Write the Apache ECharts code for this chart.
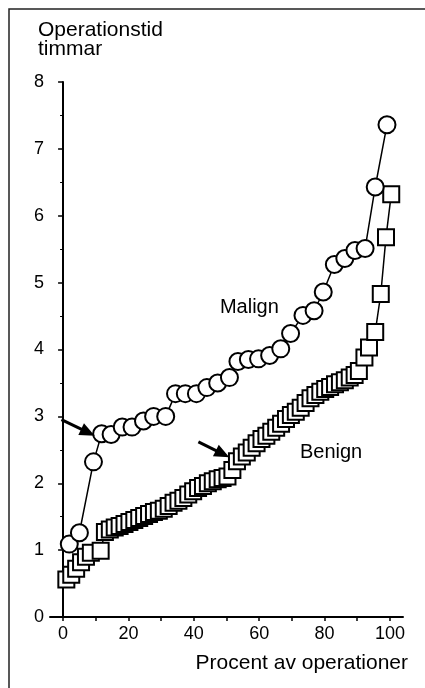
<!DOCTYPE html>
<html>
<head>
<meta charset="utf-8">
<style>
html,body{margin:0;padding:0;background:#fff;}
#chart{width:425px;height:688px;}
</style>
<script src="https://cdn.jsdelivr.net/npm/echarts@6/dist/echarts.min.js"></script>
</head>
<body>
<div id="chart"></div>
<script>
// ---- data ----
const yAxisTitle = ['Operationstid', 'timmar'];
const xAxisTitle = 'Procent av operationer';
const xTickLabels = [0, 20, 40, 60, 80, 100];
const xTickMarks = [0, 10, 20, 30, 40, 50, 60, 70, 80, 90, 100];
const yTickLabels = [0, 1, 2, 3, 4, 5, 6, 7, 8];

const malignX = [1.9, 5.0, 9.3, 11.8, 14.7, 18.1, 21.1, 24.6, 27.7, 31.4, 34.4, 37.4, 40.8, 44.0, 47.3, 50.9, 53.5, 56.7, 59.8, 63.2, 66.6, 69.6, 73.4, 76.8, 79.6, 83.0, 86.2, 89.3, 92.4, 95.5, 99.1];
const malignY = [1.09, 1.26, 2.32, 2.74, 2.73, 2.84, 2.84, 2.93, 3.0, 3.0, 3.34, 3.34, 3.34, 3.43, 3.5, 3.58, 3.82, 3.85, 3.86, 3.91, 4.01, 4.24, 4.51, 4.58, 4.86, 5.27, 5.36, 5.48, 5.51, 6.43, 7.36];

const benignX = [1.0, 2.5, 4.0, 5.5, 7.0, 8.5, 11.5, 12.8, 14.3, 15.8, 17.3, 18.8, 20.3, 21.8, 23.3, 24.8, 26.3, 27.8, 29.3, 30.8, 32.3, 33.8, 35.3, 36.8, 38.3, 39.8, 41.3, 42.8, 44.3, 45.8, 47.3, 48.8, 50.3, 51.8, 53.2, 54.7, 56.2, 57.7, 59.2, 60.7, 62.2, 63.7, 65.2, 66.7, 68.2, 69.7, 71.2, 72.7, 74.2, 75.7, 77.2, 78.7, 80.2, 81.7, 83.2, 84.7, 86.2, 87.7, 89.2, 90.5, 92.2, 93.6, 95.5, 97.2, 98.8, 100.4];
const benignY = [0.56, 0.63, 0.72, 0.82, 0.9, 0.96, 0.99, 1.27, 1.31, 1.34, 1.36, 1.39, 1.42, 1.45, 1.48, 1.51, 1.54, 1.57, 1.59, 1.62, 1.66, 1.71, 1.74, 1.78, 1.83, 1.88, 1.93, 1.96, 2.0, 2.03, 2.06, 2.08, 2.1, 2.2, 2.33, 2.4, 2.46, 2.53, 2.6, 2.66, 2.71, 2.77, 2.83, 2.89, 2.96, 3.02, 3.07, 3.13, 3.2, 3.27, 3.32, 3.37, 3.41, 3.44, 3.48, 3.51, 3.54, 3.58, 3.62, 3.68, 3.88, 4.03, 4.26, 4.83, 5.68, 6.32];

// annotations (data coordinates)
const seriesNames = ['Malign', 'Benign'];
const labelPos = [[57, 4.63], [82, 2.46]];
const arrows = [[[-0.5, 2.95], [7.6, 2.76]], [[41.4, 2.62], [48.8, 2.44]]];

const FONT = '"Liberation Sans", Arial, sans-serif';
const chart = echarts.init(document.getElementById('chart'), null, {renderer: 'canvas'});

const zip = (xs, ys) => xs.map((x, i) => [x, ys[i]]);
const arrowLine = a => ({
  silent: true, symbol: ['none', 'triangle'], symbolSize: [13, 15],
  lineStyle: {color: '#000', width: 3, type: 'solid'},
  itemStyle: {color: '#000'},
  label: {show: false},
  data: [[{coord: a[0]}, {coord: a[1]}]]
});

const option = {
  animation: false,
  backgroundColor: '#fff',
  grid: {left: 50, right: 22, top: 82, bottom: 71, containLabel: false},
  xAxis: {
    type: 'value', min: -4, max: 104,
    axisLine: {show: true, onZero: false, lineStyle: {color: '#000', width: 2}},
    axisTick: {show: true, customValues: xTickMarks, length: 4, lineStyle: {color: '#000', width: 1.5}},
    axisLabel: {customValues: xTickLabels, color: '#000', fontSize: 18, fontFamily: FONT, margin: 8},
    splitLine: {show: false}
  },
  yAxis: {
    type: 'value', min: 0, max: 8, interval: 1,
    axisLine: {show: true, lineStyle: {color: '#000', width: 2}},
    axisTick: {show: true, length: 5, lineStyle: {color: '#000', width: 1.5}},
    minorTick: {show: true, splitNumber: 2, length: 3, lineStyle: {color: '#000', width: 1}},
    axisLabel: {color: '#000', fontSize: 18, fontFamily: FONT, margin: 6,
      formatter: v => yTickLabels.includes(v) ? String(v) : ''},
    splitLine: {show: false}
  },
  series: [
    {
      name: seriesNames[1], type: 'line', data: zip(benignX, benignY),
      symbol: 'rect', symbolSize: 16, showAllSymbol: true,
      lineStyle: {color: '#000', width: 1.5},
      itemStyle: {color: '#fff', borderColor: '#000', borderWidth: 2},
      z: 2,
      markLine: arrowLine(arrows[1])
    },
    {
      name: seriesNames[0], type: 'line', data: zip(malignX, malignY),
      symbol: 'circle', symbolSize: 17, showAllSymbol: true,
      lineStyle: {color: '#000', width: 1.5},
      itemStyle: {color: '#fff', borderColor: '#000', borderWidth: 2},
      z: 3,
      markLine: arrowLine(arrows[0])
    }
  ]
};
chart.setOption(option);

const p0 = chart.convertToPixel({gridIndex: 0}, labelPos[0]);
const p1 = chart.convertToPixel({gridIndex: 0}, labelPos[1]);
chart.setOption({
  graphic: [
    {type: 'polyline', shape: {points: [[9, 688], [9, 9], [425, 9]]}, style: {stroke: '#222', lineWidth: 1.5, fill: null}},
    {type: 'text', left: 38, top: 20, style: {text: yAxisTitle.join('\n'), font: '21px ' + FONT, fill: '#000', lineHeight: 19}},
    {type: 'text', right: 17, top: 653, style: {text: xAxisTitle, font: '21px ' + FONT, fill: '#000'}},
    {type: 'text', x: p0[0], y: p0[1], style: {text: seriesNames[0], font: '20px ' + FONT, fill: '#000', align: 'center', verticalAlign: 'middle', backgroundColor: '#fff'}, z: 10},
    {type: 'text', x: p1[0], y: p1[1], style: {text: seriesNames[1], font: '20px ' + FONT, fill: '#000', align: 'center', verticalAlign: 'middle', backgroundColor: '#fff'}, z: 10}
  ]
});
</script>
</body>
</html>
